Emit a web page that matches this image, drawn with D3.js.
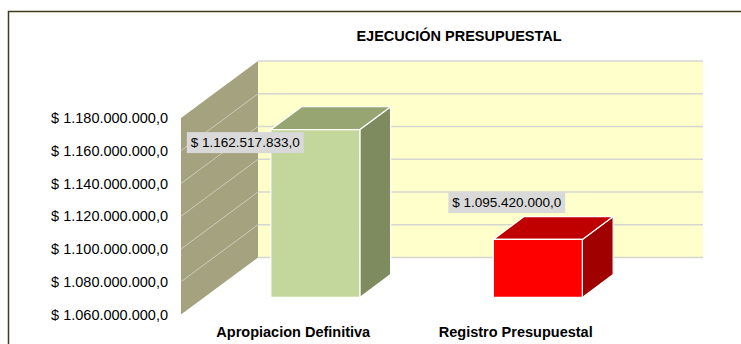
<!DOCTYPE html>
<html>
<head>
<meta charset="utf-8">
<script src="https://cdn.jsdelivr.net/npm/d3@7/dist/d3.min.js"></script>
<style>
  html, body { margin: 0; padding: 0; background: #fff; }
  svg { display: block; font-family: "Liberation Sans", Arial, sans-serif; }
</style>
</head>
<body>
<svg id="chart" width="741" height="344"></svg>
<script>
// Chart data
const title = "EJECUCIÓN PRESUPUESTAL";
const categories = ["Apropiacion Definitiva", "Registro Presupuestal"];
const values = [1162517833, 1095420000];
const tickValues = [1060000000, 1080000000, 1100000000, 1120000000, 1140000000, 1160000000, 1180000000];
const frontColors = ["#C3D69B", "#FF0000"];
const topColors = ["#97A572", "#C00000"];
const sideColors = ["#7E8B5F", "#A00000"];

// Layout of the 3D box (front plane + depth offset)
const plotLeft = 181, plotRight = 626;
const depthX = 77, depthY = -57;
const barDepthFront = 0.3, barDepthBack = 0.7, barWidthRatio = 0.4;

const svg = d3.select("#chart");

const locale = d3.formatLocale({ decimal: ",", thousands: ".", grouping: [3], currency: ["$ ", ""] });
const fmt = locale.format("$,.1f");

const y = d3.scaleLinear()
  .domain([tickValues[0], tickValues[tickValues.length - 1]])
  .range([314.5, 118]);

const x = d3.scaleBand()
  .domain(categories)
  .range([plotLeft, plotRight])
  .padding(0);

// project a front-plane point back by fraction f of the depth
const P = (px, py, f) => [px + f * depthX, py + f * depthY];
const poly = pts => "M" + pts.map(p => p.join(",")).join("L") + "Z";

// outer frame
svg.append("rect")
  .attr("x", 8.5).attr("y", 11.5)
  .attr("width", 800).attr("height", 400)
  .attr("fill", "none")
  .attr("stroke", "#3d3d1a")
  .attr("stroke-width", 1.5);

// title
svg.append("text")
  .attr("x", 459).attr("y", 41)
  .attr("text-anchor", "middle")
  .attr("font-weight", "bold")
  .attr("font-size", "14.5px")
  .attr("fill", "#000")
  .text(title);

const yMin = y.domain()[0], yMax = y.domain()[1];

// back wall
const bw0 = P(plotLeft, y(yMax), 1), bw1 = P(plotRight, y(yMin), 1);
svg.append("rect")
  .attr("x", bw0[0]).attr("y", bw0[1])
  .attr("width", bw1[0] - bw0[0]).attr("height", bw1[1] - bw0[1])
  .attr("fill", "#FFFFCC");

// side wall
svg.append("path")
  .attr("d", poly([
    [plotLeft, y(yMax)], P(plotLeft, y(yMax), 1),
    P(plotLeft, y(yMin), 1), [plotLeft, y(yMin)]
  ]))
  .attr("fill", "#A4A27F");

// gridlines on back wall
svg.append("g").selectAll("line")
  .data(tickValues)
  .join("line")
  .attr("x1", d => P(plotLeft, y(d), 1)[0])
  .attr("x2", d => P(plotRight, y(d), 1)[0])
  .attr("y1", d => P(plotLeft, y(d), 1)[1])
  .attr("y2", d => P(plotLeft, y(d), 1)[1])
  .attr("stroke", "#D6D6D0")
  .attr("stroke-width", 1.5);

// gridlines on side wall
svg.append("g").selectAll("line")
  .data(tickValues.slice(1, -1))
  .join("line")
  .attr("x1", plotLeft)
  .attr("y1", d => y(d))
  .attr("x2", d => P(plotLeft, y(d), 1)[0])
  .attr("y2", d => P(plotLeft, y(d), 1)[1])
  .attr("stroke", "#CDCCB8")
  .attr("stroke-width", 1);

// y axis labels
svg.append("g").selectAll("text")
  .data(tickValues)
  .join("text")
  .attr("x", 168)
  .attr("y", d => y(d))
  .attr("dy", "0.36em")
  .attr("text-anchor", "end")
  .attr("font-size", "14.5px")
  .attr("fill", "#000")
  .text(d => fmt(d));

// bars
const bars = categories.map((c, i) => {
  const bw = x.bandwidth() * barWidthRatio;
  const x0 = x(c) + (x.bandwidth() - bw) / 2, x1 = x0 + bw;
  const yt = y(values[i]), yb = y(yMin);
  return { i, x0, x1, yt, yb };
});

const gBars = svg.append("g")
  .attr("stroke", "#fff")
  .attr("stroke-width", 1.2)
  .attr("stroke-linejoin", "round");

bars.forEach(b => {
  const f = barDepthFront, k = barDepthBack;
  const ftl = P(b.x0, b.yt, f), ftr = P(b.x1, b.yt, f);
  const fbl = P(b.x0, b.yb, f), fbr = P(b.x1, b.yb, f);
  const btl = P(b.x0, b.yt, k), btr = P(b.x1, b.yt, k);
  const bbr = P(b.x1, b.yb, k);
  gBars.append("path").attr("d", poly([ftr, btr, bbr, fbr])).attr("fill", sideColors[b.i]);
  gBars.append("path").attr("d", poly([ftl, btl, btr, ftr])).attr("fill", topColors[b.i]);
  gBars.append("path").attr("d", poly([ftl, ftr, fbr, fbl])).attr("fill", frontColors[b.i]);
});

// value labels, nudged off the bar tops
const labelNudge = [[-47, -4], [-8, -54]];
bars.forEach(b => {
  const cx = (b.x0 + b.x1) / 2 + labelNudge[b.i][0];
  const cy = b.yt + labelNudge[b.i][1];
  const g = svg.append("g");
  const t = g.append("text")
    .attr("x", cx).attr("y", cy)
    .attr("dy", "0.36em")
    .attr("text-anchor", "middle")
    .attr("font-size", "13.5px")
    .attr("fill", "#000")
    .text(fmt(values[b.i]));
  const bb = t.node().getBBox();
  g.insert("rect", "text")
    .attr("x", bb.x - 4).attr("y", cy - 10.5)
    .attr("width", bb.width + 8).attr("height", 21)
    .attr("fill", "#D9D9D9");
});

// category labels
svg.append("g").selectAll("text")
  .data(categories)
  .join("text")
  .attr("x", d => x(d) + x.bandwidth() / 2 + 1)
  .attr("y", 337)
  .attr("text-anchor", "middle")
  .attr("font-weight", "bold")
  .attr("font-size", "14.5px")
  .attr("fill", "#000")
  .text(d => d);
</script>
</body>
</html>
